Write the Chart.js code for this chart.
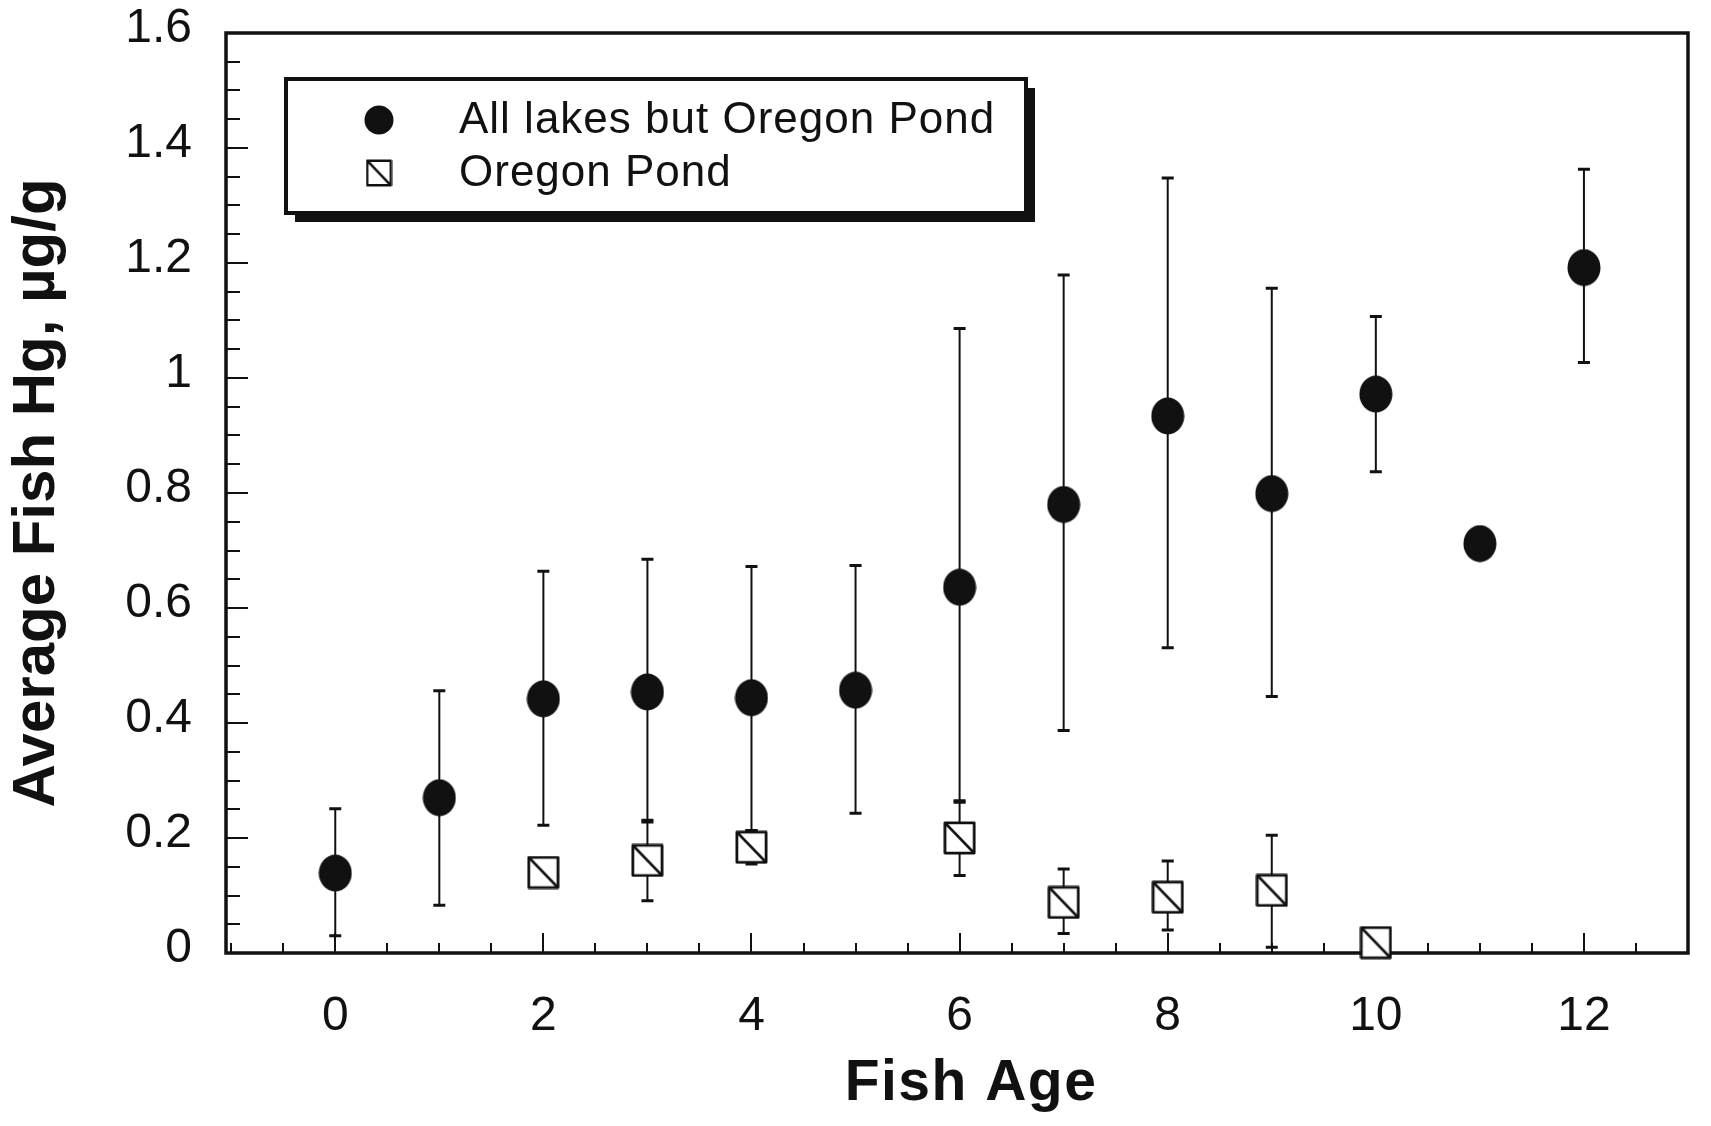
<!DOCTYPE html>
<html>
<head>
<meta charset="utf-8">
<title>Average Fish Hg by Fish Age</title>
<script src="https://cdn.jsdelivr.net/npm/chart.js@4.4.1/dist/chart.umd.min.js"></script>
<style>
  html, body { margin: 0; padding: 0; background: #ffffff; overflow: hidden; }
  canvas { display: block; }
</style>
</head>
<body>
<canvas id="chart" width="1711" height="1126"></canvas>
<script>
// ---- data ----------------------------------------------------------------
const ages = [0, 1, 2, 3, 4, 5, 6, 7, 8, 9, 10, 11, 12];
const allLakesMean = [0.139, 0.270, 0.442, 0.454, 0.444, 0.457, 0.636, 0.780, 0.934, 0.799, 0.972, 0.712, 1.192];
const allLakesLow  = [0.030, 0.083, 0.222, 0.228, 0.213, 0.243, 0.262, 0.387, 0.531, 0.446, 0.837, null, 1.027];
const allLakesHigh = [0.251, 0.456, 0.664, 0.685, 0.672, 0.674, 1.086, 1.179, 1.348, 1.156, 1.107, null, 1.363];

const oregonAges = [2, 3, 4, 6, 7, 8, 9, 10];
const oregonMean = [0.140, 0.161, 0.184, 0.200, 0.088, 0.097, 0.109, 0.018];
const oregonLow  = [null, 0.091, 0.155, 0.135, 0.034, 0.040, 0.010, null];
const oregonHigh = [null, 0.231, 0.213, 0.265, 0.146, 0.160, 0.205, null];

const seriesNames = ['All lakes but Oregon Pond', 'Oregon Pond'];

const xTickValues = [0, 2, 4, 6, 8, 10, 12];
const xTickLabels = ['0', '2', '4', '6', '8', '10', '12'];
const yTickValues = [0, 0.2, 0.4, 0.6, 0.8, 1.0, 1.2, 1.4, 1.6];
const yTickLabels = ['0', '0.2', '0.4', '0.6', '0.8', '1', '1.2', '1.4', '1.6'];

const xTitle = 'Fish Age';
const yTitle = 'Average Fish Hg, \u00b5g/g';

// ---- styling ---------------------------------------------------------------
const INK = '#111111';
const FONT = '"Liberation Sans", Arial, Helvetica, sans-serif';

function dotMarker(w, h) {
  const c = document.createElement('canvas');
  c.width = w; c.height = h;
  const g = c.getContext('2d');
  g.fillStyle = INK;
  g.beginPath();
  g.ellipse(w / 2, h / 2, w / 2 - 0.5, h / 2 - 0.5, 0, 0, Math.PI * 2);
  g.fill();
  return c;
}

function boxMarker(w, h, lw) {
  const c = document.createElement('canvas');
  c.width = w; c.height = h;
  const g = c.getContext('2d');
  const p = lw / 2 + 0.5;
  g.fillStyle = '#ffffff';
  g.fillRect(p, p, w - 2 * p, h - 2 * p);
  g.strokeStyle = INK;
  g.lineWidth = lw;
  g.lineJoin = 'round';
  g.strokeRect(p, p, w - 2 * p, h - 2 * p);
  g.beginPath();
  g.moveTo(p, p);
  g.lineTo(w - p, h - p);
  g.stroke();
  return c;
}

const dot = dotMarker(34, 38);
const box = boxMarker(33, 34, 2.8);
const legendDot = dotMarker(30, 30);
const legendBox = boxMarker(27, 28, 2.4);

const errorSets = [
  { xs: ages, lo: allLakesLow, hi: allLakesHigh },
  { xs: oregonAges, lo: oregonLow, hi: oregonHigh }
];

// vertical error bars with small caps, under the markers
const errorBars = {
  id: 'errorBars',
  beforeDatasetsDraw(chart) {
    const { ctx, scales: { x, y } } = chart;
    ctx.save();
    ctx.strokeStyle = INK;
    errorSets.forEach(set => {
      set.xs.forEach((xv, i) => {
        const lo = set.lo[i], hi = set.hi[i];
        if (lo == null || hi == null) return;
        const px = x.getPixelForValue(xv);
        const pl = y.getPixelForValue(lo);
        const ph = y.getPixelForValue(hi);
        ctx.lineWidth = 2;
        ctx.beginPath();
        ctx.moveTo(px, pl);
        ctx.lineTo(px, ph);
        ctx.stroke();
        ctx.lineWidth = 3;
        ctx.beginPath();
        ctx.moveTo(px - 6, pl); ctx.lineTo(px + 6, pl);
        ctx.moveTo(px - 6, ph); ctx.lineTo(px + 6, ph);
        ctx.stroke();
      });
    });
    ctx.restore();
  }
};

// plot frame with inward major/minor ticks on the left and bottom axes
const frameTicks = {
  id: 'frameTicks',
  beforeDatasetsDraw(chart) {
    const { ctx, chartArea: a, scales: { x, y } } = chart;
    ctx.save();
    ctx.strokeStyle = INK;
    ctx.lineWidth = 2;
    ctx.beginPath();
    for (let v = y.min; v <= y.max + 1e-9; v += 0.05) {
      const py = Math.round(y.getPixelForValue(v));
      const major = yTickValues.some(t => Math.abs(t - v) < 1e-6);
      ctx.moveTo(a.left, py);
      ctx.lineTo(a.left + (major ? 22 : 14), py);
    }
    for (let v = Math.ceil(x.min * 2) / 2; v <= x.max + 1e-9; v += 0.5) {
      const px = Math.round(x.getPixelForValue(v));
      const major = xTickValues.some(t => Math.abs(t - v) < 1e-6);
      ctx.moveTo(px, a.bottom);
      ctx.lineTo(px, a.bottom - (major ? 20 : 10));
    }
    ctx.stroke();
    ctx.lineWidth = 3.5;
    ctx.strokeRect(a.left, a.top, a.right - a.left, a.bottom - a.top);
    ctx.restore();
  }
};

// tracking and nudge for the axis titles
const titleStyle = { x: { spacing: '1.5px', dx: 14 }, y: { spacing: '0px', dx: 0 } };
const styledTitles = {
  id: 'styledTitles',
  beforeDraw(chart) {
    Object.keys(titleStyle).forEach(id => {
      const s = chart.scales[id];
      if (!s || s._styledTitle) return;
      const base = s.drawTitle;
      s.drawTitle = function () {
        const c = this.ctx;
        c.save();
        c.translate(titleStyle[id].dx, 0);
        c.letterSpacing = titleStyle[id].spacing;
        base.call(this);
        c.restore();
        c.letterSpacing = '0px';
      };
      s._styledTitle = true;
    });
  }
};

// boxed key with a drop shadow inside the plot area
const keyPanel = {
  id: 'keyPanel',
  afterDraw(chart) {
    const { ctx, chartArea: a } = chart;
    const bx = a.left + 60, by = a.top + 46, bw = 740, bh = 134, sh = 9;
    ctx.save();
    ctx.fillStyle = '#ffffff';
    ctx.fillRect(bx, by, bw, bh);
    ctx.fillStyle = INK;
    ctx.fillRect(bx + sh, by + bh, bw, sh);
    ctx.fillRect(bx + bw, by + sh, sh, bh);
    ctx.strokeStyle = INK;
    ctx.lineWidth = 4;
    ctx.strokeRect(bx, by, bw, bh);

    const markers = [legendDot, legendBox];
    const rowY = [by + 41, by + 94];
    ctx.font = '44px ' + FONT;
    ctx.letterSpacing = '1px';
    ctx.textAlign = 'left';
    ctx.textBaseline = 'middle';
    seriesNames.forEach((name, i) => {
      const m = markers[i];
      ctx.drawImage(m, bx + 93 - m.width / 2, rowY[i] - m.height / 2);
      ctx.fillStyle = INK;
      ctx.fillText(name, bx + 173, rowY[i] + 1);
    });
    ctx.letterSpacing = '0px';
    ctx.restore();
  }
};

new Chart(document.getElementById('chart'), {
  type: 'scatter',
  data: {
    datasets: [
      {
        label: seriesNames[0],
        data: ages.map((a, i) => ({ x: a, y: allLakesMean[i] })),
        pointStyle: dot,
        pointRadius: 18,
        pointHoverRadius: 18,
        showLine: false,
        clip: false
      },
      {
        label: seriesNames[1],
        data: oregonAges.map((a, i) => ({ x: a, y: oregonMean[i] })),
        pointStyle: box,
        pointRadius: 17,
        pointHoverRadius: 17,
        showLine: false,
        clip: false
      }
    ]
  },
  options: {
    responsive: false,
    animation: false,
    events: [],
    layout: { padding: { left: 0, top: 33, right: 23, bottom: 0 } },
    plugins: {
      legend: { display: false },
      tooltip: { enabled: false }
    },
    scales: {
      x: {
        type: 'linear',
        min: -1.05,
        max: 13,
        grid: { display: false, drawTicks: false },
        border: { display: false },
        afterBuildTicks: s => { s.ticks = xTickValues.map(v => ({ value: v })); },
        afterFit: s => { s.height = 173; },
        ticks: {
          autoSkip: false,
          maxRotation: 0,
          padding: 35,
          z: 1,
          color: INK,
          font: { family: FONT, size: 48 },
          callback: (v, i) => xTickLabels[i]
        },
        title: {
          display: true,
          text: xTitle,
          color: INK,
          font: { family: FONT, size: 57, weight: 'bold' },
          padding: { top: 0, bottom: 8 }
        }
      },
      y: {
        type: 'linear',
        min: 0,
        max: 1.6,
        grid: { display: false, drawTicks: false },
        border: { display: false },
        afterBuildTicks: s => { s.ticks = yTickValues.map(v => ({ value: v })); },
        afterFit: s => { s.width = 226; s.paddingTop = 0; s.paddingBottom = 0; },
        ticks: {
          autoSkip: false,
          padding: 34,
          labelOffset: -4,
          z: 1,
          color: INK,
          font: { family: FONT, size: 48 },
          callback: (v, i) => yTickLabels[i]
        },
        title: {
          display: true,
          text: yTitle,
          color: INK,
          font: { family: FONT, size: 60, weight: 'bold' },
          padding: { top: 1, bottom: 0 }
        }
      }
    }
  },
  plugins: [styledTitles, frameTicks, errorBars, keyPanel]
});
</script>
</body>
</html>
